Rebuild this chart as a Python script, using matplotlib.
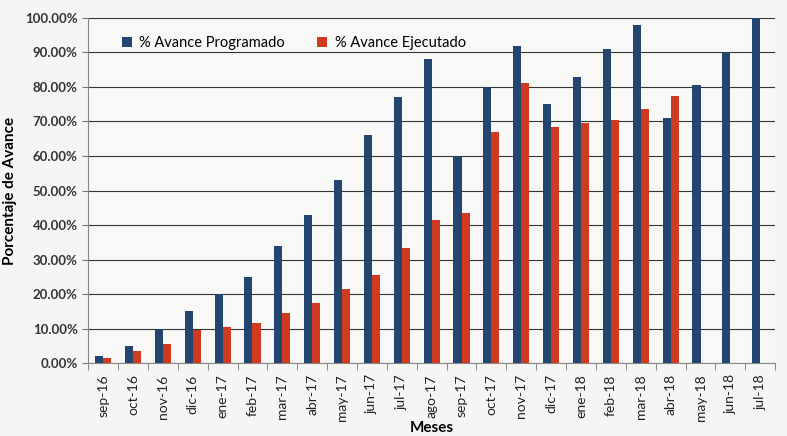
import numpy as np
import matplotlib.pyplot as plt
from matplotlib.ticker import PercentFormatter

# Data
meses = ['sep-16', 'oct-16', 'nov-16', 'dic-16', 'ene-17', 'feb-17', 'mar-17',
         'abr-17', 'may-17', 'jun-17', 'jul-17', 'ago-17', 'sep-17', 'oct-17',
         'nov-17', 'dic-17', 'ene-18', 'feb-18', 'mar-18', 'abr-18', 'may-18',
         'jun-18', 'jul-18']
programado = [2, 5, 10, 15, 20, 25, 34, 43, 53, 66, 77, 88, 60, 80,
              92, 75, 83, 91, 98, 71, 80.5, 90, 100]
ejecutado = [1.5, 3.5, 5.5, 9.5, 10.5, 11.5, 14.5, 17.5, 21.5, 25.5, 33.5, 41.5,
             43.5, 67, 81, 68.5, 69.5, 70.5, 73.5, 77.5]

plt.rcParams['font.family'] = ['Lato', 'DejaVu Sans']

fig = plt.figure(figsize=(7.87, 4.36), dpi=100, facecolor='#f5f5f3')
ax = fig.add_axes([0.112, 0.167, 0.873, 0.792])
ax.set_facecolor('#f8f8f6')

x = np.arange(len(meses))
w = 0.27
ax.bar(x[:len(programado)] - w / 2, programado, w, color='#22466f',
       label='% Avance Programado', zorder=3)
ax.bar(x[:len(ejecutado)] + w / 2, ejecutado, w, color='#cf3a20',
       label='% Avance Ejecutado', zorder=3)

ax.set_xlim(-0.5, len(meses) - 0.5)
ax.set_ylim(0, 100)
ax.set_yticks(np.arange(0, 101, 10))
ax.yaxis.set_major_formatter(PercentFormatter(decimals=2))
ax.set_xticks(x)
ax.set_xticklabels(meses, rotation=90, fontsize=10)
ax.set_xticks(np.arange(-0.5, len(meses), 1), minor=True)
ax.tick_params(axis='x', which='major', length=0, pad=8)
ax.tick_params(axis='x', which='minor', length=5, color='#777777')
ax.tick_params(axis='y', labelsize=9.5, length=4, color='#777777')
for lab in ax.get_yticklabels():
    lab.set_fontweight('bold')
    lab.set_color('#333333')
for lab in ax.get_xticklabels():
    lab.set_color('#222222')

ax.grid(axis='y', color='#333333', linewidth=0.8, zorder=0)
for s in ['top', 'right']:
    ax.spines[s].set_visible(False)
ax.spines['left'].set_color('#888888')
ax.spines['bottom'].set_color('#888888')

ax.set_ylabel('Porcentaje de Avance', fontsize=11, fontweight='bold', labelpad=6)
ax.set_xlabel('Meses', fontsize=11, fontweight='bold', labelpad=0)

ax.legend(loc='upper left', bbox_to_anchor=(0.03, 0.985), ncol=2, frameon=False,
          fontsize=10.5, handlelength=0.7, handleheight=0.7, columnspacing=2.2,
          handletextpad=0.5)

plt.savefig('out.png', dpi=100, facecolor=fig.get_facecolor())
